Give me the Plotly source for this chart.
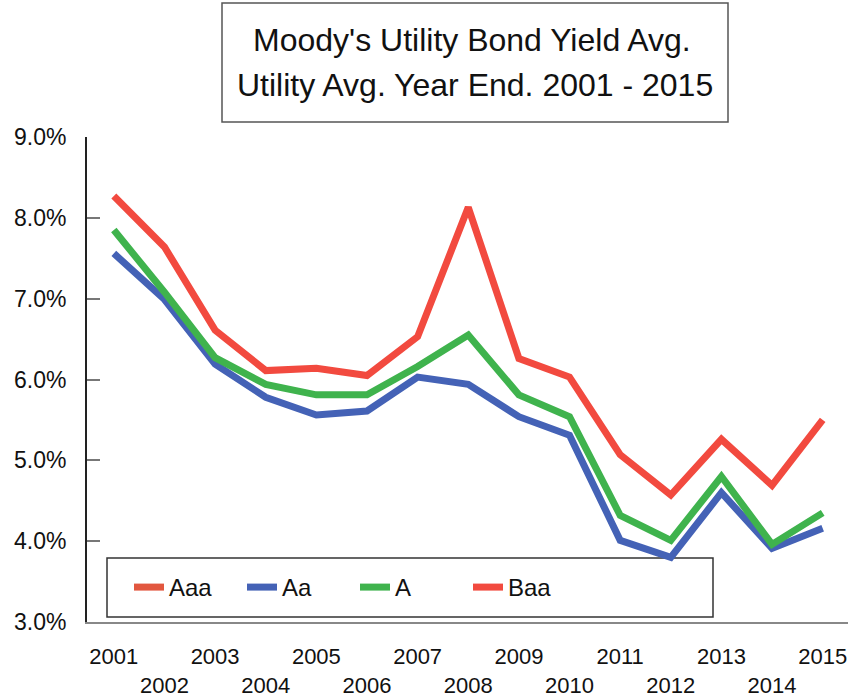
import plotly.graph_objects as go

years = list(range(2001, 2016))
baa = [8.27, 7.64, 6.61, 6.11, 6.14, 6.05, 6.53, 8.13, 6.26, 6.03, 5.07, 4.57, 5.26, 4.69, 5.50]
a_ = [7.85, 7.08, 6.27, 5.94, 5.81, 5.81, 6.16, 6.55, 5.81, 5.54, 4.32, 4.01, 4.80, 3.96, 4.35]
aa = [7.56, 6.99, 6.19, 5.78, 5.56, 5.61, 6.03, 5.94, 5.54, 5.31, 4.01, 3.80, 4.60, 3.91, 4.16]
aaa = [None] * 15
tick_labels = [str(y) if y % 2 == 1 else "<br>" + str(y) for y in years]
y_ticks = [3, 4, 5, 6, 7, 8, 9]
y_tick_labels = ["3.0%", "4.0%", "5.0%", "6.0%", "7.0%", "8.0%", "9.0%"]

fig = go.Figure()
series = [("Aaa", aaa, "#e2573f"), ("Aa", aa, "#4462b6"), ("A", a_, "#3fb34d"), ("Baa", baa, "#f24a3f")]
for name, vals, col in series:
    fig.add_trace(go.Scatter(x=years, y=vals, name=name, mode="lines",
                             line=dict(color=col, width=7), connectgaps=False))

W, H = 855, 697
L, R, T, B = 87, 848, 137, 622

def px(x):
    return (x - L) / (R - L)

def py(y):
    return (B - y) / (B - T)

fig.update_layout(
    width=W, height=H,
    margin=dict(l=L, r=W - R, t=T, b=H - B, autoexpand=False),
    paper_bgcolor="white", plot_bgcolor="white",
    font=dict(family="Liberation Sans, Arial", color="#111"),
    showlegend=True,
    legend=dict(orientation="h", x=px(129), y=py(565), xanchor="left", yanchor="top",
                bgcolor="rgba(0,0,0,0)", borderwidth=0,
                font=dict(size=24, family="Liberation Sans, Arial", color="#111"),
                itemwidth=30, tracegroupgap=0, entrywidth=68, entrywidthmode="pixels"),
    xaxis=dict(range=[2000.47, 2015.5], tickmode="array", tickvals=years, ticktext=tick_labels,
               showgrid=False, zeroline=False, showline=True, linecolor="#888", linewidth=2,
               ticks="", tickangle=0, automargin=False,
               tickfont=dict(size=22, family="Liberation Sans, Arial"),
               ticklabelstandoff=14),
    yaxis=dict(range=[3, 9], tickmode="array", tickvals=y_ticks, ticktext=y_tick_labels,
               showgrid=False, zeroline=False, showline=True, linecolor="#222", linewidth=2,
               ticks="inside", ticklen=13, tickcolor="#777", tickwidth=1.5, automargin=False,
               tickfont=dict(size=23), ticklabelstandoff=14),
    shapes=[
        dict(type="rect", xref="paper", yref="paper", x0=px(107), x1=px(713), y0=py(617), y1=py(558),
             line=dict(color="#333", width=1.5), fillcolor="white", layer="below"),
        dict(type="rect", xref="paper", yref="paper", x0=px(222), x1=px(728), y0=py(122), y1=py(3),
             line=dict(color="#555", width=1.5), fillcolor="white", layer="below"),
    ],
    annotations=[
        dict(text="Moody's Utility Bond Yield Avg.", xref="paper", yref="paper",
             x=px(472), y=py(40), showarrow=False, font=dict(size=32), xanchor="center", yanchor="middle"),
        dict(text="Utility Avg. Year End. 2001 - 2015", xref="paper", yref="paper",
             x=px(475), y=py(85), showarrow=False, font=dict(size=32), xanchor="center", yanchor="middle"),
    ],
)

fig.write_html("out.html")
